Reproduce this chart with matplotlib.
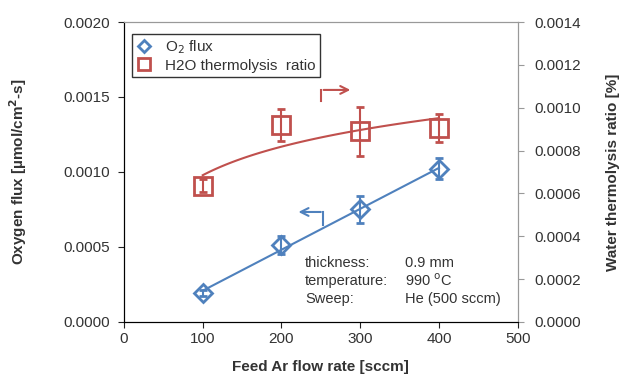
import numpy as np
import matplotlib.pyplot as plt

plt.rcParams['font.family'] = ['Liberation Sans', 'DejaVu Sans']

# data
feed_flow = [100, 200, 300, 400]
o2_flux = [0.00019, 0.00051, 0.00075, 0.00102]
o2_err = [0.00002, 0.00006, 0.00009, 0.00007]
h2o_ratio = [0.000635, 0.00092, 0.00089, 0.000905]
h2o_err = [0.00003, 0.000075, 0.000115, 0.000065]

blue = '#4F81BD'
red = '#C0504D'
txt = '#333333'

fig = plt.figure(figsize=(6.23, 3.8), dpi=100)
ax = fig.add_axes([0.199, 0.153, 0.632, 0.789])
ax2 = ax.twinx()

# trendlines (linear for flux, logarithmic for ratio)
xs = np.linspace(100, 400, 100)
p = np.polyfit(feed_flow, o2_flux, 1)
ax.plot(xs, np.polyval(p, xs), color=blue, lw=1.5, zorder=2)
q = np.polyfit(np.log(feed_flow), h2o_ratio, 1)
ax2.plot(xs, np.polyval(q, np.log(xs)), color=red, lw=1.5, zorder=2)

ax.errorbar(feed_flow, o2_flux, yerr=o2_err, fmt='D', ms=9.5, mfc='none', mec=blue,
            mew=2, ecolor=blue, elinewidth=1.5, capsize=3, zorder=3)
ax2.errorbar(feed_flow, h2o_ratio, yerr=h2o_err, fmt='s', ms=13, mfc='none', mec=red,
             mew=2, ecolor=red, elinewidth=1.5, capsize=3, zorder=3)

# legend proxies
h1, = ax.plot([], [], 'D', ms=6, mfc='none', mec=blue, mew=2, label='O$_{2}$ flux')
h2, = ax.plot([], [], 's', ms=8, mfc='none', mec=red, mew=2, label='H2O thermolysis  ratio')
leg = ax.legend(handles=[h1, h2], loc='upper left', bbox_to_anchor=(0.0, 0.985),
                frameon=True, fancybox=False, edgecolor='black', fontsize=11,
                handlelength=1.0, handletextpad=0.9, borderpad=0.3, labelspacing=0.15)
leg.get_frame().set_linewidth(1.0)
for t in leg.get_texts():
    t.set_color(txt)

# axis-pointing arrows
ax.plot([253, 253], [0.000647, 0.000733], color=blue, lw=1.5)
ax.annotate('', xy=(218, 0.000733), xytext=(253.5, 0.000733),
            arrowprops=dict(arrowstyle='->', color=blue, lw=1.5, mutation_scale=14))
ax2.plot([250.5, 250.5], [0.001031, 0.001083], color=red, lw=1.5)
ax2.annotate('', xy=(291, 0.001083), xytext=(250, 0.001083),
             arrowprops=dict(arrowstyle='->', color=red, lw=1.5, mutation_scale=14))

# conditions text
info_labels = ['thickness:', 'temperature:', 'Sweep:']
info_values = ['0.9 mm', '990 $^{\\mathrm{o}}$C', 'He (500 sccm)']
for i, (lab, val) in enumerate(zip(info_labels, info_values)):
    y = 0.00039 - i * 0.000118
    ax.text(230, y, lab, fontsize=10.5, va='center', color=txt)
    ax.text(357, y, val, fontsize=10.5, va='center', color=txt)

ax.set_xlim(0, 500)
ax.set_ylim(0, 0.002)
ax2.set_ylim(0, 0.0014)
ax.set_xticks(np.arange(0, 501, 100))
ax.set_yticks(np.arange(0, 0.00201, 0.0005))
ax2.set_yticks(np.arange(0, 0.00141, 0.0002))
ax.yaxis.set_major_formatter(plt.FormatStrFormatter('%.4f'))
ax2.yaxis.set_major_formatter(plt.FormatStrFormatter('%.4f'))

ax.tick_params(labelsize=11, direction='out', length=4, colors='#222222', labelcolor=txt)
ax.tick_params(axis='y', pad=6)
ax2.tick_params(labelsize=11, direction='out', length=4, colors='#999999', labelcolor=txt, pad=8)
for a in (ax, ax2):
    a.spines['top'].set_color('#999999')
    a.spines['right'].set_color('#999999')
    a.spines['left'].set_color('black')
    a.spines['bottom'].set_color('black')

ax.set_xlabel('Feed Ar flow rate [sccm]', fontsize=11, fontweight='bold', labelpad=10, color=txt)
ax.set_ylabel('Oxygen flux [µmol/cm$^{\\mathbf{2}}$-s]', fontsize=11, fontweight='bold',
              labelpad=25, color=txt)
ax2.set_ylabel('Water thermolysis ratio [%]', fontsize=11, fontweight='bold', labelpad=18, color=txt)

fig.savefig('out.png', dpi=100)
